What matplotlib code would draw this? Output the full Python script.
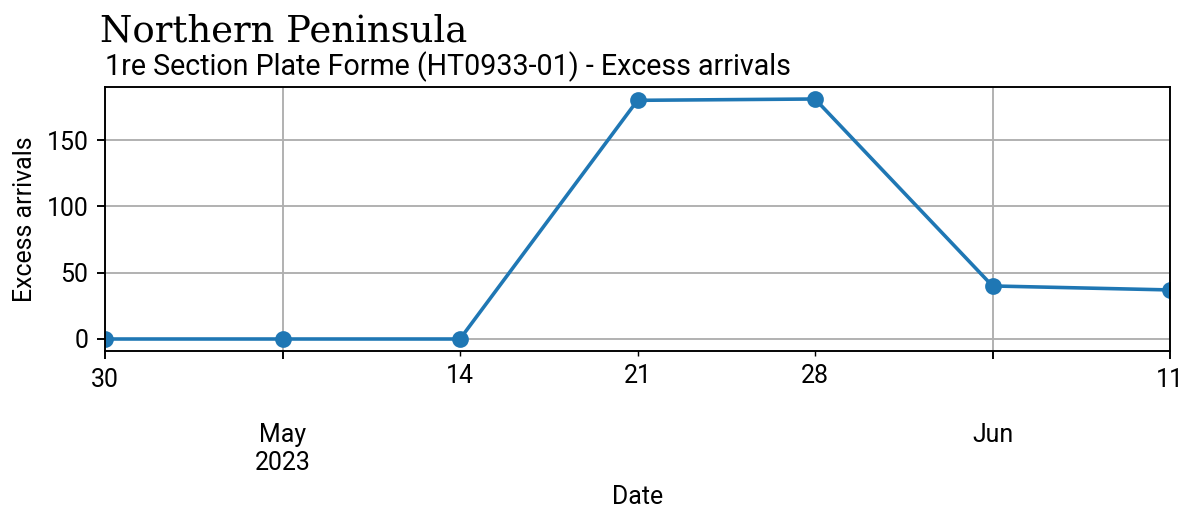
import pandas as pd
import matplotlib
matplotlib.use("Agg")
import matplotlib.pyplot as plt

# weekly excess arrivals
weeks = pd.date_range("2023-04-30", periods=7, freq="W-SUN", name="Date")
excess = [0, 0, 0, 180, 181, 40, 37]

title = "Northern Peninsula"
subtitle = "1re Section Plate Forme (HT0933-01) - Excess arrivals"

plt.rcParams["font.family"] = ["Roboto", "DejaVu Sans"]
plt.rcParams["font.size"] = 10.4

DPI = 172
s = pd.Series(excess, index=weeks)

fig = plt.figure(figsize=(1190 / DPI, 508 / DPI), dpi=DPI)
ax = fig.add_axes([105 / 1190, 1 - 351 / 508, 1065 / 1190, 264 / 508])
s.plot(ax=ax, marker="o", grid=True, color="tab:blue")
ax.set_ylabel("Excess arrivals")
ax.set_title(subtitle, loc="left", fontsize=12, pad=5)
fig.text(100 / 1190, 1 - 42 / 508, title, fontsize=15.5, family="DejaVu Serif")

fig.savefig("out.png", dpi=DPI)
